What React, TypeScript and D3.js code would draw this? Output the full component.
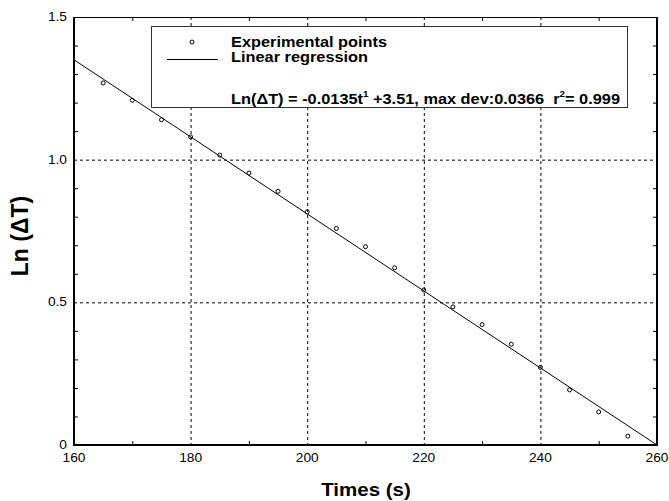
import React, { useEffect, useRef } from 'react';
import * as d3 from 'd3';

// readings
const times = [165, 170, 175, 180, 185, 190, 195, 200, 205, 210, 215, 220, 225, 230, 235, 240, 245, 250, 255];
const lnDeltaT = [1.269, 1.208, 1.14, 1.08, 1.016, 0.953, 0.889, 0.817, 0.759, 0.695, 0.621, 0.543, 0.484, 0.422, 0.353, 0.272, 0.193, 0.116, 0.031];
const fitSlope = -0.0135;
const fitIntercept = 3.51;
const xTicks = [160, 180, 200, 220, 240, 260];
const yTicks = [0, 0.5, 1.0, 1.5];
const xMinor = [170, 190, 210, 230, 250];
const yMinor = [0.1, 0.2, 0.3, 0.4, 0.6, 0.7, 0.8, 0.9, 1.1, 1.2, 1.3, 1.4];

const W = 669;
const H = 501;
const font = 'Arial, "Liberation Sans", sans-serif';

const App = () => {
  const svgRef = useRef<SVGSVGElement>(null);

  useEffect(() => {
    const svg = d3.select(svgRef.current);
    svg.selectAll('*').remove();

    const x = d3.scaleLinear().domain([160, 260]).range([74, 657]);
    const y = d3.scaleLinear().domain([0, 1.5]).range([445, 17]);
    const [x0, x1] = x.range();
    const [y0, y1] = y.range();

    // the original text is a little wider than Arial, so stretch it
    const place = (px: number, py: number, sx: number) => `translate(${px},${py}) scale(${sx},1)`;

    // grid
    const grid = svg.append('g').attr('stroke', '#000').attr('stroke-width', 1).attr('stroke-dasharray', '3,3');
    grid.selectAll('.gx').data(xTicks.slice(1, -1)).join('line')
      .attr('class', 'gx')
      .attr('x1', d => x(d) + 0.5).attr('x2', d => x(d) + 0.5).attr('y1', y1).attr('y2', y0);
    grid.selectAll('.gy').data(yTicks.slice(1, -1)).join('line')
      .attr('class', 'gy')
      .attr('y1', d => y(d) + 0.5).attr('y2', d => y(d) + 0.5).attr('x1', x0).attr('x2', x1);

    // inner ticks on every side
    const tk = svg.append('g').attr('stroke', '#000').attr('stroke-width', 1);
    xMinor.forEach(d => {
      tk.append('line').attr('x1', x(d) + 0.5).attr('x2', x(d) + 0.5).attr('y1', y0).attr('y2', y0 - 4);
      tk.append('line').attr('x1', x(d) + 0.5).attr('x2', x(d) + 0.5).attr('y1', y1).attr('y2', y1 + 4);
    });
    yMinor.forEach(d => {
      tk.append('line').attr('y1', y(d) + 0.5).attr('y2', y(d) + 0.5).attr('x1', x0).attr('x2', x0 + 4);
      tk.append('line').attr('y1', y(d) + 0.5).attr('y2', y(d) + 0.5).attr('x1', x1).attr('x2', x1 - 4);
    });

    // frame
    svg.append('line').attr('x1', x0).attr('x2', x1).attr('y1', y1 + 0.5).attr('y2', y1 + 0.5).attr('stroke', '#000');
    svg.append('line').attr('x1', x0 - 1).attr('x2', x1 + 1).attr('y1', y0).attr('y2', y0).attr('stroke', '#000').attr('stroke-width', 2);
    svg.append('line').attr('x1', x0).attr('x2', x0).attr('y1', y1).attr('y2', y0).attr('stroke', '#000').attr('stroke-width', 2);
    svg.append('line').attr('x1', x1).attr('x2', x1).attr('y1', y1).attr('y2', y0).attr('stroke', '#000').attr('stroke-width', 2);

    // tick labels
    svg.append('g').selectAll('text').data(xTicks).join('text')
      .attr('transform', d => place(x(d), y0 + 17, 1.1))
      .attr('text-anchor', 'middle').attr('font-family', font).attr('font-size', 12.5)
      .text(d => String(d));
    svg.append('g').selectAll('text').data(yTicks).join('text')
      .attr('transform', d => place(x0 - 7, y(d) + 4, 1.1))
      .attr('text-anchor', 'end').attr('font-family', font).attr('font-size', 12.5)
      .text(d => (d === 0 ? '0' : d.toFixed(1)));

    // axis titles
    svg.append('text').attr('transform', place(366, 496, 1.08)).attr('text-anchor', 'middle')
      .attr('font-family', font).attr('font-size', 19).attr('font-weight', 'bold').text('Times (s)');
    svg.append('text').attr('transform', 'translate(28,236) rotate(-90)').attr('text-anchor', 'middle')
      .attr('font-family', font).attr('font-size', 23).attr('font-weight', 'bold').text('Ln (\u0394T)');

    // regression line
    const fit = d3.line<number>().x(d => x(d)).y(d => y(fitSlope * d + fitIntercept));
    svg.append('path').datum([160, 260]).attr('d', fit).attr('fill', 'none').attr('stroke', '#000').attr('stroke-width', 1);

    // points
    svg.append('g').selectAll('circle').data(times).join('circle')
      .attr('cx', d => x(d)).attr('cy', (d, i) => y(lnDeltaT[i])).attr('r', 2)
      .attr('fill', 'none').attr('stroke', '#000').attr('stroke-width', 1);

    // legend
    const lg = svg.append('g');
    lg.append('rect').attr('x', 151.5).attr('y', 26.5).attr('width', 476).attr('height', 81)
      .attr('fill', '#fff').attr('stroke', '#333').attr('stroke-width', 1);
    lg.append('circle').attr('cx', 192).attr('cy', 42).attr('r', 2).attr('fill', 'none').attr('stroke', '#000');
    lg.append('line').attr('x1', 167).attr('x2', 218).attr('y1', 59.5).attr('y2', 59.5).attr('stroke', '#000');
    const lt = lg.append('g').attr('font-family', font).attr('font-size', 15).attr('font-weight', 'bold');
    lt.append('text').attr('transform', place(231, 47, 1.09)).text('Experimental points');
    lt.append('text').attr('transform', place(231, 62, 1.09)).text('Linear regression');
    const eq = lt.append('text').attr('transform', place(231, 104, 1.09));
    eq.append('tspan').text('Ln(\u0394T) = -0.0135t');
    eq.append('tspan').attr('dy', -7).attr('font-size', 9).text('1');
    eq.append('tspan').attr('dy', 7).text('\u00a0+3.51, max dev:0.0366\u00a0\u00a0r');
    eq.append('tspan').attr('dy', -7).attr('font-size', 9).text('2');
    eq.append('tspan').attr('dy', 7).text('= 0.999');
  }, []);

  return (
    <svg ref={svgRef} width={W} height={H} style={{ position: 'absolute', left: 0, top: 0, background: '#fff' }} />
  );
};

export default App;
